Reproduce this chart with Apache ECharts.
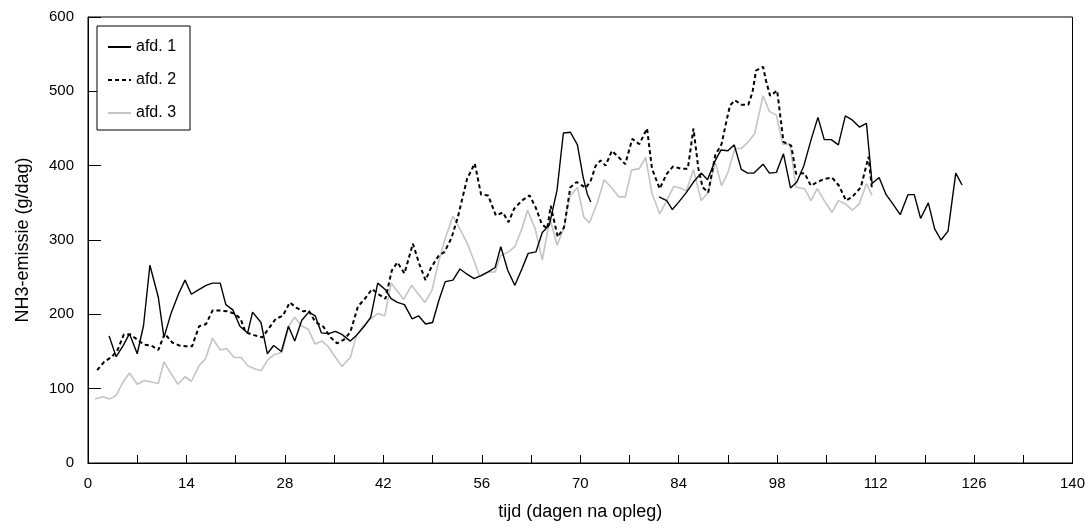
<!DOCTYPE html>
<html>
<head>
<meta charset="utf-8">
<script src="https://cdn.jsdelivr.net/npm/echarts@6/dist/echarts.min.js"></script>
<style>html,body{margin:0;padding:0;background:#fff}#c{width:1088px;height:530px}</style>
</head>
<body>
<div id="c"></div>
<script>
const seriesNames = ['afd. 1', 'afd. 2', 'afd. 3'];
const xTicks = [0, 14, 28, 42, 56, 70, 84, 98, 112, 126, 140];
const yTicks = [0, 100, 200, 300, 400, 500, 600];

const days1 = [3.0,4.0,5.0,5.9,7.0,7.9,8.8,10.0,10.8,11.8,12.9,13.8,14.7,15.7,16.8,17.7,18.8,19.6,20.6,21.6,22.7,23.4,24.6,25.5,26.4,27.5,28.5,29.4,30.4,31.4,32.3,33.2,34.2,35.2,36.1,37.3,38.2,39.2,40.2,41.2,42.3,43.1,44.0,45.0,46.1,47.0,48.0,49.0,49.9,50.8,51.9,52.9,53.9,54.9,55.9,56.9,57.9,58.7,59.7,60.7,61.7,62.6,63.7,64.6,65.6,66.7,67.6,68.6,69.6,70.4,71.0,71.5,76.0,81.2,82.3,83.1,84.0,85.1,86.1,87.2,88.1,89.1,90.0,91.0,91.9,92.9,93.8,94.7,96.0,96.9,97.9,98.9,99.9,100.8,101.8,102.8,103.8,104.7,105.7,106.7,107.7,108.6,109.7,110.7,111.5,112.5,113.5,114.5,115.5,116.6,117.5,118.4,119.5,120.4,121.3,122.3,123.4,124.3];
const afd1 = [171,143,158,174,147,185,266,223,169,201,228,246,227,233,239,242,242,213,206,184,175,203,189,147,158,150,184,164,192,203,198,175,174,177,173,164,172,183,196,242,233,221,216,213,194,198,187,189,219,244,246,261,254,248,252,257,263,291,259,239,261,282,284,310,320,367,444,445,428,385,362,351,null,358,353,341,351,364,378,390,381,405,421,420,428,395,390,390,402,390,391,416,370,378,400,434,465,435,435,428,467,462,452,457,376,384,361,348,334,361,361,329,350,315,300,312,390,374];

const days2 = [1.3,2.3,3.4,4.2,5.1,6.0,7.0,8.0,9.0,10.0,10.9,12.0,13.0,13.9,14.8,15.8,16.8,17.7,18.9,19.8,20.8,21.7,22.4,23.6,24.8,25.7,26.7,27.7,28.7,29.6,30.6,31.4,32.3,33.5,34.5,35.4,36.4,37.3,38.4,39.3,40.4,41.3,42.3,43.2,44.0,45.0,46.2,47.1,48.0,48.8,49.8,50.7,51.7,52.6,53.9,55.0,55.9,56.9,58.0,59.0,59.8,60.6,61.7,62.8,63.7,64.5,65.3,65.8,66.8,67.7,68.6,69.5,70.8,71.5,72.2,72.9,73.6,74.5,75.5,76.4,77.4,78.4,79.5,80.2,81.3,82.3,83.2,84.3,85.3,86.1,86.8,87.4,88.2,89.2,90.1,90.7,91.3,92.0,92.9,93.9,94.5,95.0,96.0,96.4,97.0,98.0,98.9,100.0,100.7,101.9,102.8,103.7,104.7,105.8,106.8,107.8,108.7,109.9,111.0,111.5];
const afd2 = [125,136,143,152,173,173,166,159,158,152,174,162,158,157,157,184,187,205,205,204,201,194,176,172,169,181,194,198,216,209,204,205,190,183,169,161,166,176,211,220,234,227,221,259,270,255,295,268,246,263,278,284,303,331,382,403,361,360,333,337,324,342,353,360,343,322,315,346,304,317,371,378,370,380,400,407,400,420,411,402,436,429,450,396,369,389,399,396,396,450,396,371,364,414,429,456,481,488,482,482,499,528,533,515,494,501,432,427,389,390,373,378,382,384,373,353,358,371,412,367];

const days3 = [1.0,2.1,3.1,4.0,5.0,5.9,7.0,8.0,9.0,10.0,10.8,11.9,12.8,13.8,14.7,15.8,16.7,17.7,18.8,19.7,20.8,21.8,22.7,23.6,24.6,25.6,26.5,27.6,28.6,29.4,30.3,31.3,32.3,33.3,34.2,35.2,36.1,37.3,38.2,39.2,40.2,41.2,42.2,43.1,44.0,44.9,46.0,47.0,47.9,48.9,49.9,50.8,51.9,53.0,54.0,54.9,55.7,56.9,57.9,58.7,59.8,60.7,61.7,62.5,63.6,64.6,65.7,66.7,67.7,68.5,69.6,70.5,71.3,72.4,73.4,74.4,75.5,76.4,77.3,78.4,79.3,80.2,81.3,82.3,83.3,84.2,85.1,86.1,87.2,88.2,89.2,90.1,91.0,92.0,92.9,93.9,94.8,96.0,96.9,97.9,98.8,99.8,100.7,101.9,102.8,103.7,104.7,105.8,106.7,107.8,108.7,109.7,110.7,111.5];
const afd3 = [86,89,86,91,109,121,106,111,109,107,136,119,106,116,110,131,140,168,152,154,142,142,131,127,124,139,146,149,185,196,185,180,160,164,156,142,130,142,172,185,194,201,198,242,231,220,239,227,216,232,272,302,332,313,294,272,251,257,257,279,284,291,315,340,315,273,329,293,317,358,371,331,323,349,381,371,358,358,394,396,411,363,335,353,372,370,366,395,353,364,405,373,391,423,423,432,443,494,473,468,429,429,371,369,353,369,353,337,353,348,340,349,376,360];

function pairs(d, v) { return d.map((x, i) => [x, v[i] === null ? '-' : v[i]]); }

const FONT = 'Liberation Sans, Arial, sans-serif';
const chart = echarts.init(document.getElementById('c'), null, {renderer: 'canvas'});
chart.setOption({
  animation: false,
  backgroundColor: '#fff',
  grid: {left: 88, right: 8, top: 17, bottom: 67, show: true, borderColor: '#000', borderWidth: 1, backgroundColor: 'transparent'},
  legend: {
    orient: 'vertical', left: 97, top: 26,
    data: seriesNames,
    itemWidth: 23, itemHeight: 14, itemGap: 17,
    padding: [13, 14, 9, 10],
    borderColor: '#000', borderWidth: 1, backgroundColor: '#fff',
    itemStyle: {opacity: 0, borderWidth: 0},
    textStyle: {fontFamily: FONT, fontSize: 16, color: '#000'}
  },
  xAxis: {
    type: 'value', min: 0, max: 140, interval: 7,
    name: 'tijd (dagen na opleg)', nameLocation: 'middle', nameGap: 40,
    nameTextStyle: {fontFamily: FONT, fontSize: 18, color: '#000'},
    axisLine: {show: true, onZero: false, lineStyle: {color: '#000', width: 1}},
    axisTick: {show: true, inside: true, length: 8, lineStyle: {color: '#000'}},
    axisLabel: {fontFamily: FONT, fontSize: 15, color: '#000', margin: 13,
      formatter: v => (xTicks.indexOf(v) >= 0 ? String(v) : '')},
    splitLine: {show: false}
  },
  yAxis: {
    type: 'value', min: 0, max: 600, interval: 100,
    name: 'NH3-emissie (g/dag)', nameLocation: 'middle', nameGap: 56, nameRotate: 90,
    nameTextStyle: {fontFamily: FONT, fontSize: 18, color: '#000'},
    axisLine: {show: true, onZero: false, lineStyle: {color: '#000', width: 1}},
    axisTick: {show: true, inside: true, length: 13, lineStyle: {color: '#000'}},
    axisLabel: {fontFamily: FONT, fontSize: 15, color: '#000', margin: 14,
      formatter: v => (yTicks.indexOf(v) >= 0 ? String(v) : '')},
    splitLine: {show: false}
  },
  series: [
    {name: seriesNames[2], type: 'line', data: pairs(days3, afd3), symbol: 'none', z: 1,
     lineStyle: {color: '#c4c4c4', width: 1.6}, itemStyle: {color: '#c4c4c4'}},
    {name: seriesNames[1], type: 'line', data: pairs(days2, afd2), symbol: 'none', z: 2,
     lineStyle: {color: '#000', width: 2, type: [4, 3]}, itemStyle: {color: '#000'}},
    {name: seriesNames[0], type: 'line', data: pairs(days1, afd1), symbol: 'none', z: 3, connectNulls: false,
     lineStyle: {color: '#000', width: 1.4}, itemStyle: {color: '#000'}}
  ]
});
</script>
</body>
</html>
